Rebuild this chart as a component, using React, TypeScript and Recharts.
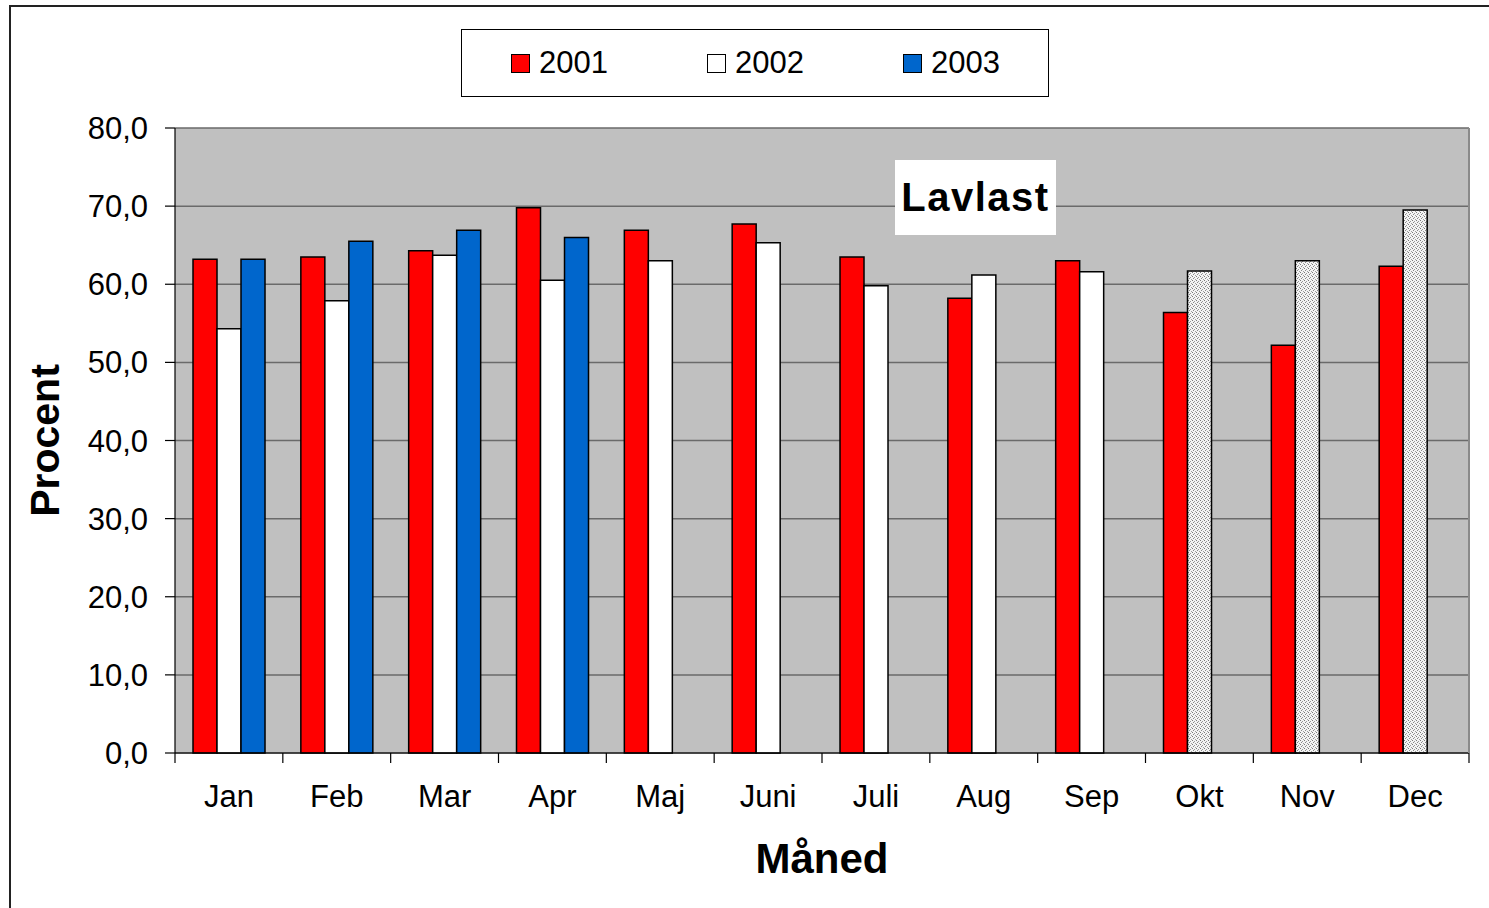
import React from 'react';
import { BarChart, Bar, XAxis, YAxis, CartesianGrid, Legend, Cell } from 'recharts';

const months = ['Jan', 'Feb', 'Mar', 'Apr', 'Maj', 'Juni', 'Juli', 'Aug', 'Sep', 'Okt', 'Nov', 'Dec'];
const values2001 = [63.2, 63.5, 64.3, 69.8, 66.9, 67.7, 63.5, 58.2, 63.0, 56.4, 52.2, 62.3];
const values2002 = [54.3, 57.9, 63.7, 60.5, 63.0, 65.3, 59.8, 61.2, 61.6, 61.7, 63.0, 69.5];
const values2003 = [63.2, 65.5, 66.9, 66.0, null, null, null, null, null, null, null, null];
const dotted2002 = ['Okt', 'Nov', 'Dec'];
const yTicks = [0, 10, 20, 30, 40, 50, 60, 70, 80];

const series = [
  { key: 'y2001', name: '2001', fill: '#ff0000' },
  { key: 'y2002', name: '2002', fill: '#ffffff' },
  { key: 'y2003', name: '2003', fill: '#0066cc' },
];

const data = months.map((m, i) => ({
  month: m,
  y2001: values2001[i],
  y2002: values2002[i],
  y2003: values2003[i],
}));

const FONT = '"Liberation Sans", Arial, sans-serif';
const TICK_SIZE = 10;
const TICK_MARGIN = 22;

const MonthTick = (props: any) => {
  const { x, y, payload, index, visibleTicksCount } = props;
  const half = payload?.offset || (1469 - 175) / 24;
  const axisY = y - TICK_SIZE - TICK_MARGIN;
  const last = index === (visibleTicksCount ?? months.length) - 1;
  return (
    <g>
      <line x1={x - half} x2={x - half} y1={axisY} y2={axisY + TICK_SIZE} stroke="#000" strokeWidth={1.2} />
      {last && <line x1={x + half} x2={x + half} y1={axisY} y2={axisY + TICK_SIZE} stroke="#000" strokeWidth={1.2} />}
      <text x={x} y={y} dy="0.71em" textAnchor="middle" fontFamily={FONT} fontSize={31} fill="#000">
        {payload.value}
      </text>
    </g>
  );
};

const renderLegend = () => (
  <div
    style={{
      boxSizing: 'border-box',
      width: 588,
      height: 68,
      border: '1.5px solid #000',
      background: '#fff',
      display: 'flex',
      alignItems: 'center',
      paddingLeft: 49,
      fontFamily: FONT,
      fontSize: 31,
    }}
  >
    {series.map((s) => (
      <div key={s.key} style={{ width: 196, flexShrink: 0, display: 'flex', alignItems: 'center' }}>
        <span
          style={{
            display: 'inline-block',
            boxSizing: 'border-box',
            width: 19,
            height: 19,
            background: s.fill,
            border: '1.5px solid #000',
            marginRight: 9,
          }}
        />
        <span>{s.name}</span>
      </div>
    ))}
  </div>
);

export default function App() {
  return (
    <div style={{ position: 'absolute', left: 0, top: 0, width: 1489, height: 908, overflow: 'hidden', background: '#fff' }}>
      <div
        style={{
          position: 'absolute',
          left: 9,
          top: 5,
          width: 1500,
          height: 920,
          borderTop: '2px solid #222',
          borderLeft: '2px solid #222',
        }}
      />
      <BarChart
        width={1489}
        height={908}
        data={data}
        margin={{ top: 128, right: 19, bottom: 0, left: 0 }}
        barCategoryGap="16.7%"
        barGap={0}
        style={{ position: 'absolute', left: 0, top: 0 }}
      >
        <defs>
          <pattern id="dots" width="4" height="4" patternUnits="userSpaceOnUse">
            <rect width="4" height="4" fill="#f4f4f4" />
            <rect x="0" y="0" width="1" height="1" fill="#7a7a7a" />
            <rect x="2" y="1" width="1" height="1" fill="#999999" />
            <rect x="1" y="2" width="1" height="1" fill="#888888" />
            <rect x="3" y="3" width="1" height="1" fill="#a0a0a0" />
          </pattern>
        </defs>
        <CartesianGrid vertical={false} stroke="#6a6a6a" strokeWidth={1.5} fill="#c0c0c0" fillOpacity={1} />
        <XAxis
          dataKey="month"
          height={155}
          axisLine={{ stroke: '#000', strokeWidth: 1.2 }}
          tickLine={{ stroke: 'none' }}
          tickSize={TICK_SIZE}
          tickMargin={TICK_MARGIN}
          tick={<MonthTick />}
          interval={0}
          label={{
            content: ({ viewBox }: any) => (
              <text
                x={viewBox.x + viewBox.width / 2}
                y={viewBox.y + 120}
                textAnchor="middle"
                fontFamily={FONT}
                fontWeight="bold"
                fontSize={42}
                fill="#000"
              >
                Måned
              </text>
            ),
          }}
        />
        <YAxis
          width={175}
          domain={[0, 80]}
          ticks={yTicks}
          interval={0}
          tickFormatter={(v: number) => v.toFixed(1).replace('.', ',')}
          tick={{ fontFamily: FONT, fontSize: 31, fill: '#000' }}
          tickSize={10}
          tickMargin={17}
          axisLine={{ stroke: '#000', strokeWidth: 1.2 }}
          tickLine={{ stroke: '#000', strokeWidth: 1.2 }}
          label={{
            content: ({ viewBox }: any) => {
              const cy = viewBox.y + viewBox.height / 2;
              return (
                <text
                  x={59}
                  y={cy}
                  transform={`rotate(-90 59 ${cy})`}
                  textAnchor="middle"
                  fontFamily={FONT}
                  fontWeight="bold"
                  fontSize={41}
                  fill="#000"
                >
                  Procent
                </text>
              );
            },
          }}
        />
        <YAxis
          yAxisId="right"
          orientation="right"
          width={1}
          tick={false}
          tickLine={false}
          axisLine={{ stroke: '#8a8a8a', strokeWidth: 2 }}
        />
        <Legend
          layout="horizontal"
          verticalAlign="middle"
          align="center"
          content={renderLegend}
          wrapperStyle={{ left: 461, top: 29, width: 588, height: 68 }}
        />
        {series.map((s) => (
          <Bar
            key={s.key}
            dataKey={s.key}
            name={s.name}
            fill={s.fill}
            stroke="#000"
            strokeWidth={1.5}
            isAnimationActive={false}
          >
            {s.key === 'y2002' &&
              data.map((d) => (
                <Cell key={d.month} fill={dotted2002.includes(d.month) ? 'url(#dots)' : s.fill} />
              ))}
          </Bar>
        ))}
      </BarChart>
      <div
        style={{
          position: 'absolute',
          left: 895,
          top: 160,
          width: 161,
          height: 75,
          background: '#fff',
          display: 'flex',
          alignItems: 'center',
          justifyContent: 'center',
          fontFamily: FONT,
          fontWeight: 'bold',
          fontSize: 40,
          letterSpacing: 1.5,
        }}
      >
        Lavlast
      </div>
    </div>
  );
}
